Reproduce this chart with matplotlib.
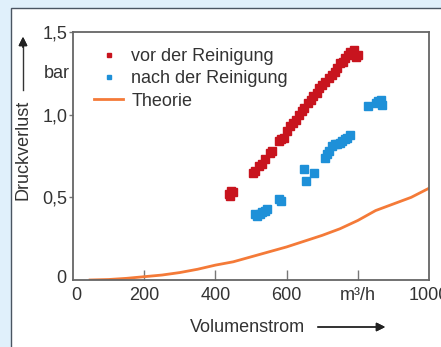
import matplotlib.pyplot as plt
from matplotlib.patches import Rectangle

plt.rcParams['font.family'] = ['Liberation Sans', 'DejaVu Sans']

# Messwerte vor der Reinigung
vor_x = [438, 442, 445, 450, 505, 512, 522, 530, 540, 553, 560, 578, 584, 592, 600,
         610, 618, 625, 635, 642, 650, 660, 668, 675, 684, 692, 700, 708, 718, 728,
         735, 742, 750, 758, 765, 772, 778, 785, 790, 795, 800]
vor_y = [0.52, 0.51, 0.54, 0.53, 0.65, 0.66, 0.69, 0.70, 0.73, 0.77, 0.78, 0.84, 0.85, 0.86, 0.90,
         0.93, 0.95, 0.97, 1.00, 1.02, 1.04, 1.07, 1.09, 1.11, 1.13, 1.16, 1.18, 1.20, 1.22, 1.24,
         1.26, 1.28, 1.31, 1.32, 1.34, 1.36, 1.38, 1.37, 1.39, 1.35, 1.36]

# Messwerte nach der Reinigung
nach_x = [510, 518, 525, 532, 540, 545, 578, 583, 649, 654, 677, 708, 714, 720, 728,
          735, 742, 750, 757, 763, 770, 778, 830, 852, 858, 864, 868]
nach_y = [0.40, 0.39, 0.40, 0.41, 0.42, 0.43, 0.49, 0.48, 0.67, 0.60, 0.65, 0.74, 0.76, 0.78, 0.81,
          0.82, 0.82, 0.83, 0.84, 0.85, 0.86, 0.88, 1.05, 1.07, 1.08, 1.09, 1.06]

# Theorie
theo_x = [48, 100, 150, 200, 250, 300, 350, 400, 450, 500, 550, 600, 650, 700, 750, 800, 850, 900, 950, 1000]
theo_y = [0, 0.003, 0.01, 0.02, 0.03, 0.045, 0.065, 0.09, 0.11, 0.14, 0.17, 0.20, 0.235, 0.27, 0.31,
          0.36, 0.42, 0.46, 0.50, 0.555]

xticks = [0, 200, 400, 600, 800, 1000]
xlabels = ['0', '200', '400', '600', 'm³/h', '1000']
yticks = [0.5, 1.0, 1.5]
ylabels = ['0,5', '1,0', '1,5']

W, H = 441, 347
FS = 13
TXT = '#333333'
fig = plt.figure(figsize=(W / 100, H / 100), dpi=100)
fig.patch.set_facecolor('#e0f0fb')
fig.patches.append(Rectangle((11 / W, -0.1), 1.2, 1 - 8 / H + 0.1, transform=fig.transFigure,
                             facecolor='white', edgecolor='#4a5562', lw=1.0, zorder=-5))

ax = fig.add_axes([73 / W, 1 - 280 / H, (429 - 73) / W, (280 - 32) / H])
ax.set_zorder(2)
ax.set_facecolor('white')

red = '#c8141e'
blue = '#1e90d8'
orange = '#f47a38'

ax.plot(vor_x, vor_y, 's', color=red, ms=6, mec=red, label='vor der Reinigung')
ax.plot(nach_x, nach_y, 's', color=blue, ms=6, mec=blue, label='nach der Reinigung')
ax.plot(theo_x, theo_y, '-', color=orange, lw=2, label='Theorie')

ax.set_xlim(0, 1000)
ax.set_ylim(0, 1.5)
for s in ax.spines.values():
    s.set_color('#666666')
    s.set_linewidth(1.3)

ax.set_xticks([200, 400, 600, 800])
ax.set_xticklabels([])
ax.tick_params(axis='x', direction='in', length=7, width=1, color='#777777')
ax.set_yticks(yticks)
ax.set_yticklabels(ylabels, fontsize=FS, color=TXT)
ax.tick_params(axis='y', direction='out', length=3, width=1, color='#777777', pad=1)

for xv, lab in zip(xticks, xlabels):
    ax.text(xv + (8 if xv == 0 else 0), -0.04, lab, ha='center', va='top', fontsize=FS, color=TXT,
            transform=ax.transData, clip_on=False)
ax.text(-0.02, 0.01, '0', ha='right', va='center', fontsize=FS, color=TXT,
        transform=ax.get_yaxis_transform())
ax.text(-0.009, 1.25, 'bar', ha='right', va='center', fontsize=FS, color=TXT,
        transform=ax.get_yaxis_transform())

ax.legend(loc='upper left', frameon=False, fontsize=FS, markerscale=0.5,
          handlelength=1.6, handletextpad=0.45, labelspacing=0.3,
          borderaxespad=0.0, bbox_to_anchor=(0.04, 0.965), labelcolor=TXT)

# Achsentitel mit Pfeilen
fig.text(23 / W, 1 - 150 / H, 'Druckverlust', rotation=90, ha='center', va='center',
         fontsize=FS, color=TXT)
fig.add_artist(plt.Line2D([23 / W, 23 / W], [1 - 90 / H, 1 - 45 / H], color='#333333', lw=1))
fig.add_artist(plt.annotate('', xy=(23 / W, 1 - 34 / H), xytext=(23 / W, 1 - 50 / H),
                            xycoords='figure fraction',
                            arrowprops=dict(arrowstyle='-|>', color='#222222', lw=1, mutation_scale=13)))
fig.text(247 / W, 1 - 327 / H, 'Volumenstrom', ha='center', va='center',
         fontsize=FS, color=TXT)
fig.add_artist(plt.annotate('', xy=(388 / W, 1 - 327 / H), xytext=(315 / W, 1 - 327 / H),
                            xycoords='figure fraction',
                            arrowprops=dict(arrowstyle='-|>', color='#222222', lw=1, mutation_scale=13)))

fig.savefig('out.png', dpi=100, facecolor=fig.get_facecolor())
